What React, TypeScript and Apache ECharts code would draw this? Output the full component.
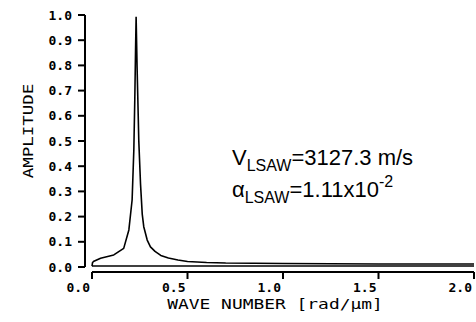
import React, { useEffect, useRef } from "react";
import * as echarts from "echarts";

const waveNumber = [0.0, 0.003, 0.01, 0.045, 0.114, 0.166, 0.193, 0.21, 0.219, 0.224, 0.228, 0.231, 0.236, 0.242, 0.245, 0.254, 0.263, 0.271, 0.289, 0.306, 0.33, 0.36, 0.4, 0.45, 0.5, 0.6, 0.7, 0.85, 1.0, 1.25, 1.5, 1.75, 2.0];
const amplitude = [0.003, 0.018, 0.023, 0.035, 0.048, 0.074, 0.147, 0.266, 0.464, 0.663, 0.861, 0.993, 0.795, 0.6, 0.5, 0.33, 0.21, 0.16, 0.107, 0.08, 0.062, 0.046, 0.036, 0.028, 0.022, 0.018, 0.016, 0.015, 0.014, 0.013, 0.012, 0.012, 0.012];
const baselineX = [0.0, 2.0];
const baselineY = [0.004, 0.004];
const xTicks = [0, 0.5, 1.0, 1.5, 2.0];
const yTicks = [0, 0.1, 0.2, 0.3, 0.4, 0.5, 0.6, 0.7, 0.8, 0.9, 1.0];

const yName = "AMPLITUDE";
const xName = "WAVE NUMBER [rad/μm]";
const annotation = "{m|V}{s|LSAW}{m|=3127.3 m/s}\n{m|α}{s|LSAW}{m|=1.11x10}{p|-2}";

const mono = "'DejaVu Sans Mono', monospace";
const sans = "'Liberation Sans', Arial, sans-serif";
const X_OFF = 5;
const Y_OFF = 7;

export default function App() {
  const ref = useRef<HTMLDivElement>(null);
  useEffect(() => {
    if (!ref.current) return;
    const chart = echarts.init(ref.current, undefined, { renderer: "svg" });
    const stroke = { stroke: "#000", lineWidth: 2 };
    chart.setOption({
      animation: false,
      title: {
        text: annotation,
        left: 232,
        top: 141,
        padding: 0,
        textStyle: {
          rich: {
            m: { fontSize: 22, lineHeight: 32, fontFamily: sans, color: "#000", fontWeight: "normal" },
            s: { fontSize: 16, lineHeight: 20, fontFamily: sans, verticalAlign: "bottom", color: "#000", fontWeight: "normal" },
            p: { fontSize: 16, lineHeight: 20, fontFamily: sans, verticalAlign: "top", color: "#000", fontWeight: "normal" },
          },
        },
      },
      grid: { left: 92, right: 2, top: 15, bottom: 55 },
      xAxis: {
        type: "value",
        min: 0,
        max: 2,
        splitNumber: 4,
        offset: X_OFF,
        axisLine: { show: false },
        axisTick: { show: false },
        axisLabel: {
          formatter: (v: number) => v.toFixed(1),
          color: "#000",
          fontFamily: mono,
          fontWeight: "bold",
          fontSize: 13,
          margin: 9,
          align: "right",
          padding: [0, 2, 0, 0],
        },
        splitLine: { show: false },
      },
      yAxis: {
        type: "value",
        min: 0,
        max: 1,
        splitNumber: 10,
        offset: Y_OFF,
        axisLine: { show: false },
        axisTick: { show: false },
        axisLabel: {
          formatter: (v: number) => v.toFixed(1),
          color: "#000",
          fontFamily: mono,
          fontWeight: "bold",
          fontSize: 13,
          margin: 13,
        },
        splitLine: { show: false },
      },
      series: [
        {
          type: "line",
          data: waveNumber.map((x, i) => [x, amplitude[i]]),
          showSymbol: false,
          lineStyle: { color: "#000", width: 1.6 },
        },
        {
          type: "line",
          data: baselineX.map((x, i) => [x, baselineY[i]]),
          showSymbol: false,
          lineStyle: { color: "#000", width: 1.4 },
        },
        {
          type: "custom",
          silent: true,
          clip: false,
          data: xTicks.map((v) => [v, 0]),
          renderItem: (params: any, api: any) => {
            const p = api.coord([api.value(0), 0]);
            const children: any[] = [
              { type: "line", shape: { x1: p[0], y1: p[1] + X_OFF, x2: p[0], y2: p[1] + X_OFF + 7 }, style: stroke },
            ];
            if (params.dataIndex === 0) {
              const a = api.coord([xTicks[0], 0]);
              const b = api.coord([xTicks[xTicks.length - 1], 0]);
              children.push({ type: "line", shape: { x1: a[0], y1: a[1] + X_OFF, x2: b[0], y2: b[1] + X_OFF }, style: stroke });
            }
            return { type: "group", children };
          },
        },
        {
          type: "custom",
          silent: true,
          clip: false,
          data: yTicks.map((v) => [0, v]),
          renderItem: (params: any, api: any) => {
            const p = api.coord([0, api.value(1)]);
            const children: any[] = [
              { type: "line", shape: { x1: p[0] - Y_OFF - 7, y1: p[1], x2: p[0] - Y_OFF, y2: p[1] }, style: stroke },
            ];
            if (params.dataIndex === 0) {
              const a = api.coord([0, yTicks[0]]);
              const b = api.coord([0, yTicks[yTicks.length - 1]]);
              children.push({ type: "line", shape: { x1: a[0] - Y_OFF, y1: a[1], x2: b[0] - Y_OFF, y2: b[1] }, style: stroke });
            }
            return { type: "group", children };
          },
        },
      ],
      graphic: [
        {
          type: "text",
          x: 28,
          y: 131,
          rotation: Math.PI / 2,
          scaleX: 1.25,
          style: { text: yName, fontFamily: mono, fontSize: 14, fill: "#000", align: "center", verticalAlign: "middle" },
        },
        {
          type: "text",
          x: 275,
          y: 304,
          scaleX: 1.28,
          style: { text: xName, fontFamily: mono, fontSize: 14, fill: "#000", align: "center", verticalAlign: "middle" },
        },
      ],
    });
    return () => chart.dispose();
  }, []);
  return <div ref={ref} style={{ width: 476, height: 322, position: "absolute", left: 0, top: 0 }} />;
}
